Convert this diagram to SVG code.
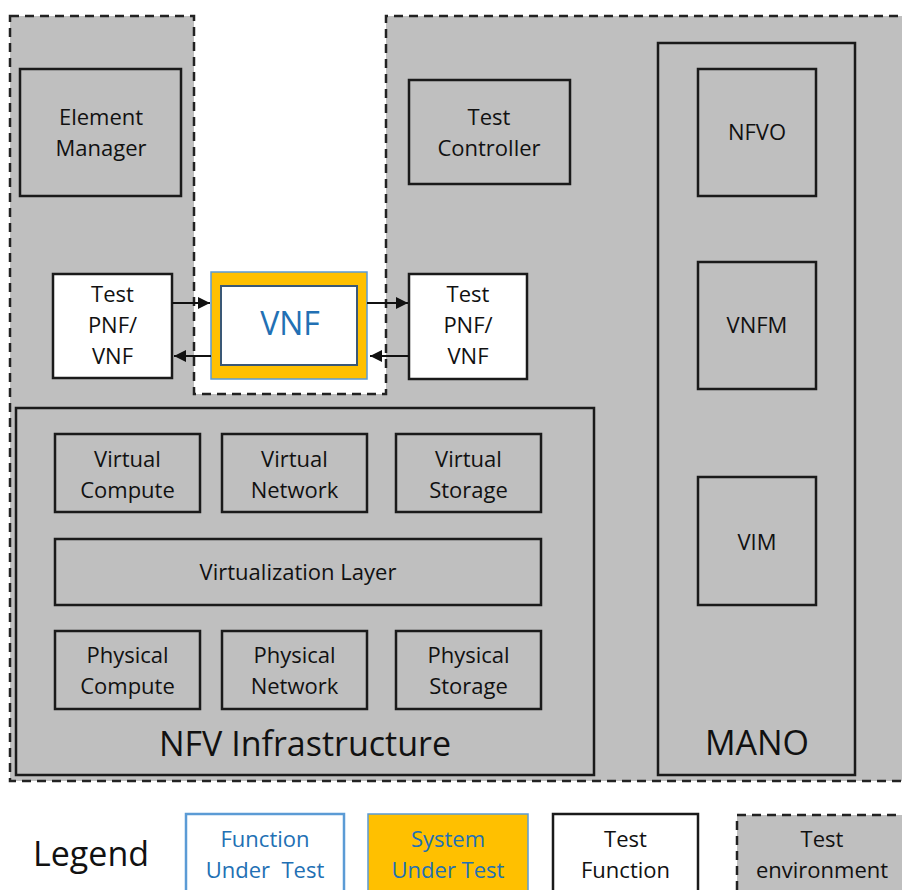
<svg xmlns="http://www.w3.org/2000/svg" width="902" height="890" viewBox="0 0 902 890">
  <style>
    .env { fill: #BFBFBF; stroke: #222; stroke-width: 2.5; stroke-dasharray: 9 6; }
    .box { fill: #BFBFBF; stroke: #1a1a1a; stroke-width: 2.5; }
    .tf { fill: #ffffff; stroke: #1a1a1a; stroke-width: 2.5; }
    .frame { fill: none; stroke: #1a1a1a; stroke-width: 2.5; }
    .t { font-family: "Open Sans", "Noto Sans", sans-serif; font-size: 22px; fill: #111; text-anchor: middle; }
    .big { font-size: 34px; }
    .blue { fill: #2270B4; }
    .link { stroke: #111; stroke-width: 2; fill: none; }
  </style>
  <defs>
    <marker id="arrow" viewBox="0 0 12 12" refX="12" refY="6" markerWidth="12" markerHeight="12" markerUnits="userSpaceOnUse" orient="auto">
      <path d="M0,0 L12,6 L0,12 Z" fill="#111"/>
    </marker>
  </defs>

  <rect width="902" height="890" fill="#ffffff"/>

  <!-- test environment area with the notch around the VNF under test -->
  <path id="test-environment" class="env" d="M10,16 H194 V394 H386 V16 H910 V781 H10 Z"/>

  <!-- NFV infrastructure -->
  <g id="nfvi">
    <rect class="frame" x="16" y="408" width="578" height="367"/>
    <text class="t big" x="305" y="756">NFV Infrastructure</text>
  </g>
  <g id="virtual-compute">
    <rect class="box" x="55" y="434" width="145" height="78"/>
    <text class="t" x="127.5" y="467">Virtual</text>
    <text class="t" x="127.5" y="498">Compute</text>
  </g>
  <g id="virtual-network">
    <rect class="box" x="222" y="434" width="145" height="78"/>
    <text class="t" x="294.5" y="467">Virtual</text>
    <text class="t" x="294.5" y="498">Network</text>
  </g>
  <g id="virtual-storage">
    <rect class="box" x="396" y="434" width="145" height="78"/>
    <text class="t" x="468.5" y="467">Virtual</text>
    <text class="t" x="468.5" y="498">Storage</text>
  </g>
  <g id="virtualization-layer">
    <rect class="box" x="55" y="539" width="486" height="66"/>
    <text class="t" x="298" y="580">Virtualization Layer</text>
  </g>
  <g id="physical-compute">
    <rect class="box" x="55" y="631" width="145" height="78"/>
    <text class="t" x="127.5" y="663">Physical</text>
    <text class="t" x="127.5" y="694">Compute</text>
  </g>
  <g id="physical-network">
    <rect class="box" x="222" y="631" width="145" height="78"/>
    <text class="t" x="294.5" y="663">Physical</text>
    <text class="t" x="294.5" y="694">Network</text>
  </g>
  <g id="physical-storage">
    <rect class="box" x="396" y="631" width="145" height="78"/>
    <text class="t" x="468.5" y="663">Physical</text>
    <text class="t" x="468.5" y="694">Storage</text>
  </g>

  <!-- MANO -->
  <g id="mano">
    <rect class="frame" x="658" y="43" width="197" height="732"/>
    <text class="t big" x="757" y="755">MANO</text>
  </g>
  <g id="nfvo">
    <rect class="box" x="698" y="69" width="118" height="127"/>
    <text class="t" x="757" y="140">NFVO</text>
  </g>
  <g id="vnfm">
    <rect class="box" x="698" y="262" width="118" height="127"/>
    <text class="t" x="757" y="333">VNFM</text>
  </g>
  <g id="vim">
    <rect class="box" x="698" y="477" width="118" height="128"/>
    <text class="t" x="757" y="550">VIM</text>
  </g>

  <!-- management and test control -->
  <g id="element-manager">
    <rect class="box" x="20" y="69" width="161" height="127"/>
    <text class="t" x="101" y="125">Element</text>
    <text class="t" x="101" y="156">Manager</text>
  </g>
  <g id="test-controller">
    <rect class="box" x="409" y="80" width="161" height="104"/>
    <text class="t" x="489" y="125">Test</text>
    <text class="t" x="489" y="156">Controller</text>
  </g>

  <!-- test functions on either side of the VNF -->
  <g id="test-pnf-left">
    <rect class="tf" x="53" y="274" width="119" height="104"/>
    <text class="t" x="112.5" y="302">Test</text>
    <text class="t" x="112.5" y="333">PNF/</text>
    <text class="t" x="112.5" y="364">VNF</text>
  </g>
  <g id="test-pnf-right">
    <rect class="tf" x="409" y="274" width="118" height="105"/>
    <text class="t" x="468" y="302">Test</text>
    <text class="t" x="468" y="333">PNF/</text>
    <text class="t" x="468" y="364">VNF</text>
  </g>

  <!-- VNF under test -->
  <g id="vnf">
    <rect x="211" y="272" width="156" height="107" fill="#FFC000" stroke="#5B9BD5" stroke-width="1.5"/>
    <rect x="221" y="286" width="136" height="79" fill="#ffffff" stroke="#3A5876" stroke-width="2"/>
    <text class="t blue" x="290" y="335" style="font-size:32px">VNF</text>
  </g>

  <!-- data paths -->
  <g id="connectors">
    <line class="link" x1="172" y1="303" x2="210" y2="303" marker-end="url(#arrow)"/>
    <line class="link" x1="211" y1="356" x2="174" y2="356" marker-end="url(#arrow)"/>
    <line class="link" x1="367" y1="303" x2="408" y2="303" marker-end="url(#arrow)"/>
    <line class="link" x1="409" y1="356" x2="370" y2="356" marker-end="url(#arrow)"/>
  </g>

  <!-- legend -->
  <g id="legend">
    <text class="t big" x="33" y="866" style="text-anchor:start">Legend</text>
    <g id="legend-fut">
      <rect x="186" y="814" width="158" height="90" fill="#ffffff" stroke="#5B9BD5" stroke-width="2.5"/>
      <text class="t blue" x="265" y="847">Function</text>
      <text class="t blue" x="265" y="878" xml:space="preserve">Under  Test</text>
    </g>
    <g id="legend-sut">
      <rect x="368" y="814" width="160" height="90" fill="#FFC000" stroke="#5B9BD5" stroke-width="1.5"/>
      <text class="t blue" x="448" y="847">System</text>
      <text class="t blue" x="448" y="878">Under Test</text>
    </g>
    <g id="legend-tf">
      <rect class="tf" x="553" y="814" width="145" height="90"/>
      <text class="t" x="625.5" y="847">Test</text>
      <text class="t" x="625.5" y="878">Function</text>
    </g>
    <g id="legend-env">
      <rect class="env" x="737" y="815" width="180" height="90"/>
      <text class="t" x="822" y="847">Test</text>
      <text class="t" x="822" y="878">environment</text>
    </g>
  </g>
</svg>
